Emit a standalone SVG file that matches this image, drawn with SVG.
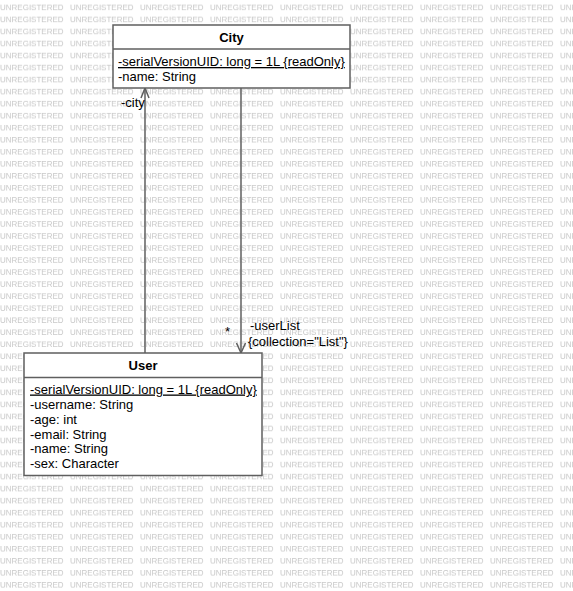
<svg xmlns="http://www.w3.org/2000/svg" width="573" height="591" viewBox="0 0 573 591">
<style>
  .wm { font-family: "Liberation Sans", Arial, sans-serif; font-size: 8px; fill: #c8c8c8; }
  .box { fill: #ffffff; stroke: #5f5f5f; stroke-width: 1.5; }
  .sep { stroke: #5f5f5f; stroke-width: 1.5; fill: none; }
  .title { font-family: "Liberation Sans", Arial, sans-serif; font-size: 13px; font-weight: bold; fill: #000; text-anchor: middle; }
  .attr { font-family: "Liberation Sans", Arial, sans-serif; font-size: 13px; fill: #000; }
  .static { text-decoration: underline; }
  .conn { stroke: #5f5f5f; stroke-width: 1.5; fill: none; }
  .lbl { font-family: "Liberation Sans", Arial, sans-serif; font-size: 13px; fill: #000; }
</style>
<defs>
  <pattern id="wmp" patternUnits="userSpaceOnUse" x="0" y="0" width="70" height="12.03">
    <rect width="70" height="12.03" fill="#ffffff"/>
    <text class="wm" x="0" y="10.2">UNREGISTERED</text>
  </pattern>
</defs>
<rect width="573" height="591" fill="url(#wmp)"/>

<g id="connectors">
  <g id="edge-user-city">
    <line class="conn" x1="145" y1="353" x2="145" y2="88"/>
    <polyline class="conn" points="141,98 145,88 149,98"/>
    <text class="lbl" x="121" y="107">-city</text>
  </g>
  <g id="edge-city-user">
    <line class="conn" x1="241" y1="88" x2="241" y2="353"/>
    <polyline class="conn" points="236.5,343 241,353 245.5,343"/>
    <text class="lbl" x="225" y="336">*</text>
    <text class="lbl" x="250" y="330">-userList</text>
    <text class="lbl" x="248" y="346">{collection="List"}</text>
  </g>
</g>

<g id="City">
  <rect class="box" x="113" y="25" width="237" height="63"/>
  <line class="sep" x1="113" y1="49" x2="350" y2="49"/>
  <text class="title" x="231.5" y="42">City</text>
  <text class="attr static" x="118" y="66">-serialVersionUID: long = 1L {readOnly}</text>
  <text class="attr" x="118" y="80.5">-name: String</text>
</g>

<g id="User">
  <rect class="box" x="24" y="353" width="238" height="122.5"/>
  <line class="sep" x1="24" y1="377.5" x2="262" y2="377.5"/>
  <text class="title" x="143" y="370">User</text>
  <text class="attr static" x="30" y="393.5">-serialVersionUID: long = 1L {readOnly}</text>
  <text class="attr" x="30" y="408.5">-username: String</text>
  <text class="attr" x="30" y="423.5">-age: int</text>
  <text class="attr" x="30" y="438.5">-email: String</text>
  <text class="attr" x="30" y="453">-name: String</text>
  <text class="attr" x="30" y="468">-sex: Character</text>
</g>
</svg>
